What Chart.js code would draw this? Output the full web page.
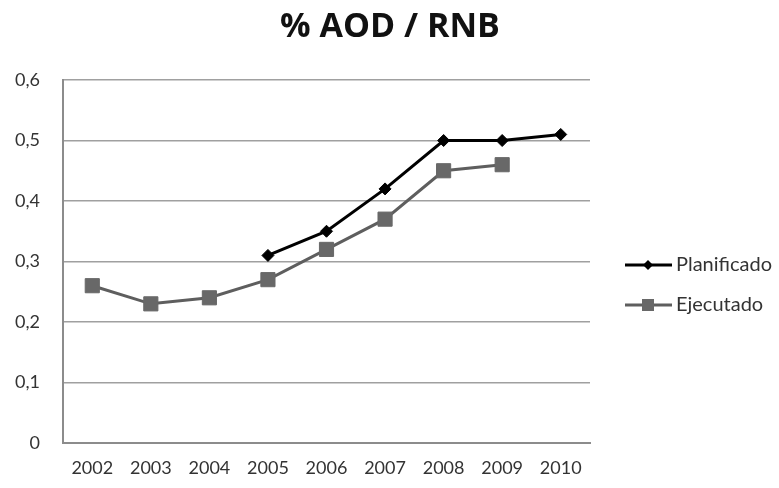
<!DOCTYPE html>
<html><head><meta charset="utf-8">
<script src="https://cdn.jsdelivr.net/npm/chart.js@4/dist/chart.umd.min.js"></script>
<style>html,body{margin:0;padding:0;background:#fff}#wrap{width:779px;height:488px}</style>
</head><body><div id="wrap"><canvas id="c" width="779" height="488"></canvas></div>
<script>
const categories = ['2002','2003','2004','2005','2006','2007','2008','2009','2010'];
const planificado = [null, null, null, 0.31, 0.35, 0.42, 0.50, 0.50, 0.51];
const ejecutado = [0.26, 0.23, 0.24, 0.27, 0.32, 0.37, 0.45, 0.46, null];
const seriesNames = ['Planificado', 'Ejecutado'];
const titleText = '% AOD / RNB';
const FONT = 'Lato, "Open Sans", sans-serif';

const titlePlugin = {
  id: 'centeredTitle',
  afterDraw(chart) {
    const ctx = chart.ctx;
    ctx.save();
    ctx.fillStyle = '#111';
    ctx.font = 'bold 34px "Open Sans", Lato, sans-serif';
    ctx.textAlign = 'center';
    ctx.textBaseline = 'middle';
    ctx.fillText(titleText, 390, 27);
    ctx.restore();
  }
};

const legendPlugin = {
  id: 'sideLegend',
  afterDraw(chart) {
    const ctx = chart.ctx;
    const items = [{y: 265, ds: chart.data.datasets[0]}, {y: 305, ds: chart.data.datasets[1]}];
    items.forEach(it => {
      ctx.save();
      ctx.strokeStyle = it.ds.borderColor;
      ctx.lineWidth = it.ds.borderWidth;
      ctx.beginPath(); ctx.moveTo(625, it.y); ctx.lineTo(672, it.y); ctx.stroke();
      ctx.fillStyle = it.ds.pointBackgroundColor;
      ctx.beginPath();
      if (it.ds.pointStyle === 'rectRot') {
        const r = 5;
        ctx.moveTo(648, it.y - r); ctx.lineTo(648 + r, it.y); ctx.lineTo(648, it.y + r); ctx.lineTo(648 - r, it.y); ctx.closePath();
      } else {
        ctx.rect(642, it.y - 6, 12, 12);
      }
      ctx.fill();
      ctx.fillStyle = '#333';
      ctx.font = '20px ' + FONT;
      ctx.textBaseline = 'middle';
      ctx.fillText(it.ds.label, 676, it.y);
      ctx.restore();
    });
  }
};

new Chart(document.getElementById('c'), {
  type: 'line',
  data: {
    labels: categories,
    datasets: [
      {label: seriesNames[0], data: planificado, borderColor: '#000', backgroundColor: '#000',
       pointBackgroundColor: '#000', pointBorderColor: '#000', borderWidth: 3, pointStyle: 'rectRot',
       pointRadius: 6, pointBorderWidth: 1, tension: 0, spanGaps: false},
      {label: seriesNames[1], data: ejecutado, borderColor: '#5e5e5e', backgroundColor: '#686868',
       pointBackgroundColor: '#686868', pointBorderColor: '#686868', borderWidth: 3, pointStyle: 'rect',
       pointRadius: 10, pointBorderWidth: 1, tension: 0, spanGaps: false}
    ]
  },
  options: {
    responsive: false,
    animation: false,
    layout: {padding: {left: 0, right: 189, top: 80, bottom: 0}},
    plugins: {
      legend: {display: false},
      tooltip: {enabled: false},
      title: {display: false}
    },
    scales: {
      x: {
        offset: true,
        grid: {display: false, drawTicks: false},
        border: {display: true, color: '#8c8c8c', width: 2},
        ticks: {color: '#333', font: {family: FONT, size: 18}, padding: 14, maxRotation: 0, autoSkip: false},
        afterFit(s) { s.height = 45; }
      },
      y: {
        min: 0, max: 0.6,
        grid: {color: '#a0a0a0', lineWidth: 1.5, drawTicks: false},
        border: {display: true, color: '#8c8c8c', width: 2},
        ticks: {stepSize: 0.1, color: '#333', font: {family: FONT, size: 18}, padding: 23,
          callback: v => (Math.round(v * 10) / 10).toString().replace('.', ',')},
        afterFit(s) { s.width = 63; }
      }
    }
  },
  plugins: [titlePlugin, legendPlugin]
});
</script></body></html>
